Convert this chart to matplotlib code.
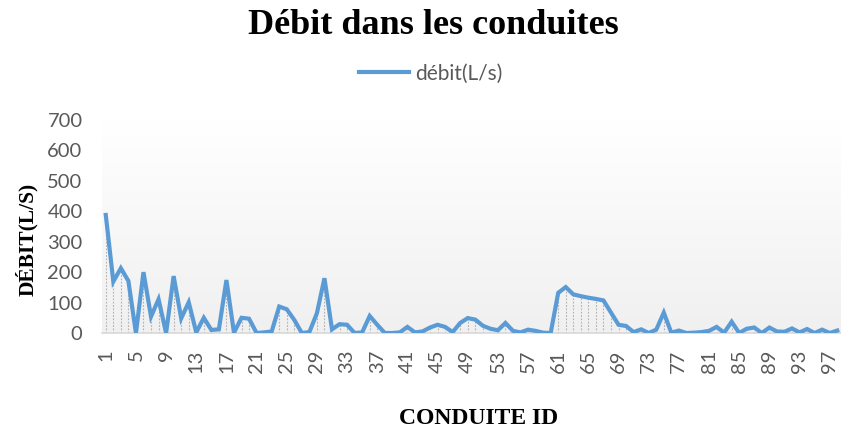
import matplotlib.pyplot as plt
import numpy as np
from matplotlib.colors import LinearSegmentedColormap

# debit per conduite
conduite_ids = list(range(1, 99))
debit = [388, 169, 213, 171, 0, 200, 54, 111, 0, 187,
         48, 101, 2, 50, 10, 12, 174, 1, 50, 47,
         0, 2, 5, 87, 78, 43, 0, 3, 65, 180,
         12, 29, 27, 0, 2, 56, 27, 0, 0, 2,
         20, 2, 5, 18, 27, 20, 3, 33, 49, 44,
         24, 14, 9, 33, 7, 2, 11, 7, 1, 0,
         132, 151, 127, 121, 116, 112, 107, 67, 27, 23,
         3, 12, 0, 11, 67, 1, 8, 0, 1, 3,
         7, 20, 1, 37, 0, 14, 18, 0, 18, 5,
         4, 15, 2, 13, 0, 11, 0, 8]
tick_labels = [str(i) for i in conduite_ids[::4]]

fig = plt.figure(figsize=(8.41, 4.32), dpi=100)
ax = fig.add_axes([102 / 841, 99 / 432, 739 / 841, 213 / 432])

x = np.arange(len(debit))

# light grey gradient in the plot area (white at top)
grad = np.linspace(0.0, 1.0, 256).reshape(-1, 1)
bg = LinearSegmentedColormap.from_list('bg', ['#f0f0f0', '#ffffff'])
ax.imshow(grad, extent=(-0.5, len(debit) - 0.5, 0, 700), aspect='auto',
          cmap=bg, origin='lower', zorder=0)

ax.vlines(x, 0, debit, colors='#b0b0b0', linestyles=(0, (1.5, 1.5)), lw=0.8, zorder=1)
ax.plot(x, debit, color='#5B9BD5', lw=3, solid_joinstyle='miter', zorder=3,
        label='débit(L/s)')

ax.set_xlim(-0.5, len(debit) - 0.5)
ax.set_ylim(0, 700)
ax.set_yticks(range(0, 701, 100))
ax.set_xticks(x[::4])
ax.set_xticklabels(tick_labels, rotation=90)

for s in ['top', 'right', 'left']:
    ax.spines[s].set_visible(False)
ax.spines['bottom'].set_color('#d9d9d9')
ax.spines['bottom'].set_linewidth(1.2)
ax.tick_params(axis='both', length=0, colors='#595959', labelsize=14.5)
ax.tick_params(axis='y', pad=14)
ax.tick_params(axis='x', pad=12)
for lab in ax.get_xticklabels() + ax.get_yticklabels():
    lab.set_family('Lato')

fig.text(0.515, 0.94, 'Débit dans les conduites', ha='center', va='center',
         fontsize=26, fontweight='bold', family='Liberation Serif')
ax.set_xlabel('CONDUITE ID', fontsize=17, fontweight='bold', family='Liberation Serif')
ax.xaxis.set_label_coords(0.509, -0.354)
ax.set_ylabel('DÉBIT(L/S)', fontsize=15.5, fontweight='bold', family='Liberation Serif')
ax.yaxis.set_label_coords(-0.087, 0.44)

leg = fig.legend(loc='center', bbox_to_anchor=(0.512, 0.83), frameon=False,
                 prop={'family': 'Lato', 'size': 15},
                 handlelength=2.4, handletextpad=0.3)
for t in leg.get_texts():
    t.set_color('#595959')

fig.savefig('out.png', dpi=100)
